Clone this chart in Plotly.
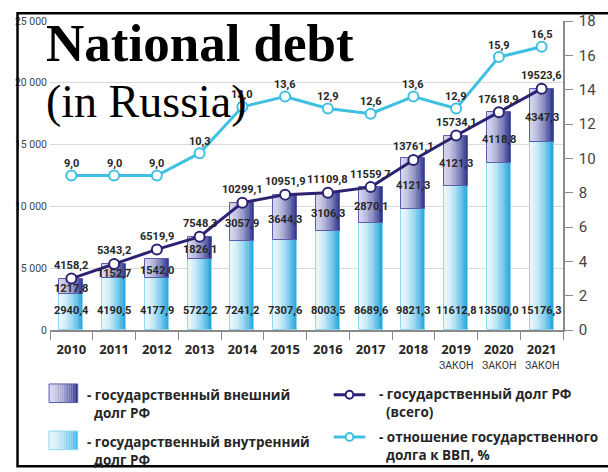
import plotly.graph_objects as go

# --- data -------------------------------------------------------------
years = ["2010", "2011", "2012", "2013", "2014", "2015", "2016", "2017",
         "2018", "2019", "2020", "2021"]
year_notes = ["", "", "", "", "", "", "", "", "", "ЗАКОН", "ЗАКОН", "ЗАКОН"]
internal_debt = [2940.4, 4190.5, 4177.9, 5722.2, 7241.2, 7307.6, 8003.5,
                 8689.6, 9821.3, 11612.8, 13500.0, 15176.3]
external_debt = [1217.8, 1152.7, 1542.0, 1826.1, 3057.9, 3644.3, 3106.3,
                 2870.1, 4121.3, 4121.3, 4118.8, 4347.3]
total_debt = [4158.2, 5343.2, 6519.9, 7548.3, 10299.1, 10951.9, 11109.8,
              11559.7, 13761.1, 15734.1, 17618.9, 19523.6]
debt_to_gdp = [9.0, 9.0, 9.0, 10.3, 13.0, 13.6, 12.9, 12.6, 13.6, 12.9,
               15.9, 16.5]

# --- styling ----------------------------------------------------------
NARROW = "Roboto, Liberation Sans, sans-serif"
SANS = "Open Sans, Liberation Sans, sans-serif"
SERIF = "Liberation Serif, Times New Roman, serif"
NAVY = "#2b2272"
CYAN = "#3fc0e2"
TEXT = "#262626"

L, R, T, B = 50, 21, 15, 142
W, H = 608, 472
PW, PH = W - L - R, H - T - B


def px(x):
    return (x - L) / PW


def py(y):
    return (H - B - y) / PH


def mix(c1, c2, t):
    a = [int(c1[i:i + 2], 16) for i in (1, 3, 5)]
    b = [int(c2[i:i + 2], 16) for i in (1, 3, 5)]
    return "#%02x%02x%02x" % tuple(round(a[k] + (b[k] - a[k]) * t) for k in range(3))


def fmt(v):
    return f"{v:.1f}".replace(".", ",")


INNER_L, INNER_R = "#eaf8fd", "#1ea2dc"
OUTER_L, OUTER_R = "#d6d6ee", "#283088"

fig = go.Figure()

# horizontal gradient on each bar segment, built from thin slices
BAR_W = 0.56
N = 14
for i in range(N):
    t = ((i + 0.5) / N) ** 1.6
    common = dict(x=years, width=BAR_W / N, offset=-BAR_W / 2 + i * BAR_W / N,
                  hoverinfo="skip", showlegend=False)
    fig.add_trace(go.Bar(y=internal_debt, base=[0] * len(years),
                         marker=dict(color=mix(INNER_L, INNER_R, t), line=dict(width=0)),
                         **common))
    fig.add_trace(go.Bar(y=external_debt, base=internal_debt,
                         marker=dict(color=mix(OUTER_L, OUTER_R, t), line=dict(width=0)),
                         **common))

# thin outlines of the segments
fig.add_trace(go.Bar(x=years, y=internal_debt, base=[0] * len(years), width=BAR_W,
                     marker=dict(color="rgba(0,0,0,0)", line=dict(color="#8ed6f2", width=1)),
                     hoverinfo="skip", showlegend=False))
fig.add_trace(go.Bar(x=years, y=external_debt, base=internal_debt, width=BAR_W,
                     marker=dict(color="rgba(0,0,0,0)", line=dict(color="#5a5ea8", width=1)),
                     hoverinfo="skip", showlegend=False))

# debt-to-GDP ratio (right axis)
fig.add_trace(go.Scatter(x=years, y=debt_to_gdp, yaxis="y2", mode="lines+markers",
                         line=dict(color=CYAN, width=3),
                         marker=dict(size=10, color="white", line=dict(color=CYAN, width=2)),
                         hoverinfo="skip", showlegend=False))
# total debt (left axis)
fig.add_trace(go.Scatter(x=years, y=total_debt, mode="lines+markers",
                         line=dict(color=NAVY, width=3),
                         marker=dict(size=10, color="white", line=dict(color=NAVY, width=2)),
                         hoverinfo="skip", showlegend=False))

ann = []
lf = dict(family=NARROW, size=11, color=TEXT, weight="bold")
for k in range(len(years)):
    # category index k is the position of years[k] on the x axis
    ann.append(dict(x=k, y=total_debt[k], yshift=13, text=fmt(total_debt[k]),
                    showarrow=False, font=lf))
    ann.append(dict(x=k, y=internal_debt[k] + external_debt[k] / 2, yshift=-2,
                    text=fmt(external_debt[k]), showarrow=False, font=lf))
    ann.append(dict(x=k, y=0, yshift=20, text=fmt(internal_debt[k]),
                    showarrow=False, font=lf))
    ann.append(dict(x=k, y=debt_to_gdp[k], yref="y2", yshift=12,
                    text=fmt(debt_to_gdp[k]), showarrow=False, font=lf))
    if year_notes[k]:
        ann.append(dict(x=k, y=py(366), yref="paper", yanchor="middle",
                        text=year_notes[k], showarrow=False,
                        font=dict(family=NARROW, size=10.5, color="#333")))

# title
ann.append(dict(xref="paper", yref="paper", x=px(44), y=py(37), xanchor="left",
                yanchor="middle", text="<b>National debt</b>", showarrow=False,
                font=dict(family=SERIF, size=53, color="black")))
ann.append(dict(xref="paper", yref="paper", x=px(44), y=py(97), xanchor="left",
                yanchor="middle", text="(in Russia)", showarrow=False,
                font=dict(family=SERIF, size=46, color="black")))

# legend texts (two lines each, second line indented past the dash)
leg_font = dict(family=SANS, size=13.5, color=TEXT, weight="bold")
IND = "\u00a0\u00a0"
legend_entries = [
    (87, 405, "- государственный внешний<br>" + IND + "долг РФ"),
    (87, 453, "- государственный внутренний<br>" + IND + "долг РФ"),
    (392, 404, "- государственный долг РФ<br>" + IND + "(всего)"),
    (392, 448, "- отношение государственного<br>" + IND + "долга к ВВП, %"),
]
for x, y, t in legend_entries:
    ann.append(dict(xref="paper", yref="paper", x=px(x), y=py(y), xanchor="left",
                    yanchor="middle", align="left", text=t, showarrow=False,
                    font=leg_font))

shapes = []
# legend swatches with gradient
for (y0, y1, cl, cr, edge) in [(385, 404, OUTER_L, OUTER_R, "#5a5ea8"),
                               (433, 452, "#e6f6fc", "#3ab4e4", "#8ed6f2")]:
    n = 16
    for i in range(n):
        t = ((i + 0.5) / n) ** 1.6
        shapes.append(dict(type="rect", xref="paper", yref="paper",
                           x0=px(49 + 30 * i / n), x1=px(49 + 30 * (i + 1) / n),
                           y0=py(y1), y1=py(y0), fillcolor=mix(cl, cr, t),
                           line=dict(width=0), layer="above"))
    shapes.append(dict(type="rect", xref="paper", yref="paper", x0=px(49), x1=px(79),
                       y0=py(y1), y1=py(y0), line=dict(color=edge, width=1),
                       layer="above"))
for (yy, col) in [(396, NAVY), (439, CYAN)]:
    shapes.append(dict(type="line", xref="paper", yref="paper", x0=px(347), x1=px(380),
                       y0=py(yy), y1=py(yy), line=dict(color=col, width=3)))
    shapes.append(dict(type="circle", xref="paper", yref="paper", x0=px(359.5),
                       x1=px(367.5), y0=py(yy + 4), y1=py(yy - 4), fillcolor="white",
                       line=dict(color=col, width=2)))
# frame
shapes.append(dict(type="rect", xref="paper", yref="paper", x0=px(16), x1=px(640),
                   y0=py(469), y1=py(7), line=dict(color="black", width=2.5),
                   layer="above"))

fig.update_layout(
    width=W, height=H, margin=dict(l=L, r=R, t=T, b=B),
    paper_bgcolor="white", plot_bgcolor="white",
    barmode="overlay", bargap=0, separators=", ",
    showlegend=False,
    xaxis=dict(type="category", range=[-0.5, 11.5], tickson="boundaries",
               tickvals=years, ticktext=[f"<b>{y}</b>" for y in years], tickangle=0,
               ticks="outside", ticklen=8, tickcolor="#8a8a8a", showline=True,
               linecolor="#8a8a8a", linewidth=1.5, showgrid=False, ticklabelstandoff=7,
               tickfont=dict(family=SANS, size=13, color=TEXT)),
    yaxis=dict(range=[0, 25000], dtick=5000, tickformat=",d", showgrid=True,
               gridcolor="#d9d9d9", gridwidth=1, zeroline=False, showline=False,
               ticks="", tickfont=dict(family=NARROW, size=10.5, color="#444"),
               ticklabelstandoff=2),
    yaxis2=dict(range=[0, 18], dtick=2, overlaying="y", side="right", showgrid=False,
                zeroline=False, showline=True, linecolor="#8a8a8a", linewidth=1.5,
                ticks="outside", ticklen=8, tickcolor="#8a8a8a", ticklabelstandoff=3,
                tickfont=dict(family=NARROW, size=15, color="#444")),
    annotations=ann, shapes=shapes,
)

fig.write_html("out.html")
